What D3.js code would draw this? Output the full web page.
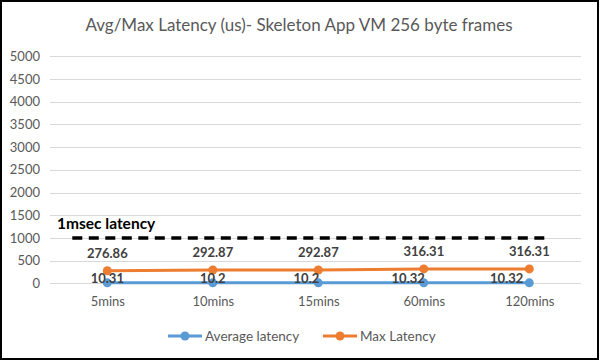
<!DOCTYPE html>
<html>
<head>
<meta charset="utf-8">
<script src="https://cdn.jsdelivr.net/npm/d3@7"></script>
<style>
  body { margin: 0; background: #fff; }
  text { font-family: Lato, "Noto Sans", sans-serif; }
</style>
</head>
<body>
<div id="chart"></div>
<script>
const categories = ['5mins', '10mins', '15mins', '60mins', '120mins']
const avgLatency = [10.31, 10.2, 10.2, 10.32, 10.32]
const maxLatency = [276.86, 292.87, 292.87, 316.31, 316.31]
const yTicks = [0, 500, 1000, 1500, 2000, 2500, 3000, 3500, 4000, 4500, 5000]
const threshold = 1000
const thresholdLabel = '1msec latency'
const seriesNames = ['Average latency', 'Max Latency']

const W = 600, H = 361
const blue = '#5b9bd5', orange = '#ed7d31'

const svg = d3.select('#chart').append('svg')
    .attr('width', W)
    .attr('height', H)

// outer frame
svg.append('rect')
    .attr('x', 1).attr('y', 1)
    .attr('width', W - 3).attr('height', H - 3)
    .attr('fill', '#fff')
    .attr('stroke', '#000')
    .attr('stroke-width', 2)

svg.append('text')
    .attr('x', 299).attr('y', 31)
    .attr('text-anchor', 'middle')
    .attr('font-size', 17)
    .attr('fill', '#595959')
    .text('Avg/Max Latency (us)- Skeleton App VM 256 byte frames')

const x = d3.scalePoint()
    .domain(categories)
    .range([107.3, 529.3])

const y = d3.scaleLinear()
    .domain([0, 5000])
    .range([283.3, 56.3])

const gridLeft = 50, gridRight = 581

// gridlines
svg.append('g')
    .selectAll('line')
    .data(yTicks)
    .join('line')
    .attr('x1', gridLeft).attr('x2', gridRight)
    .attr('y1', d => Math.round(y(d)) + 0.5)
    .attr('y2', d => Math.round(y(d)) + 0.5)
    .attr('stroke', '#d9d9d9')
    .attr('stroke-width', 1)

// y axis labels
const yAxis = svg.append('g')
    .attr('transform', `translate(${gridLeft - 4},0)`)
    .call(d3.axisLeft(y).tickValues(yTicks).tickFormat(d3.format('d')).tickSize(0).tickPadding(6))
yAxis.select('.domain').remove()
yAxis.selectAll('text')
    .attr('font-size', 13)
    .attr('font-family', 'Lato, "Noto Sans", sans-serif')
    .attr('fill', '#595959')

// x axis labels
const xAxis = svg.append('g')
    .attr('transform', 'translate(0,297)')
    .call(d3.axisBottom(x).tickSize(0).tickPadding(0))
xAxis.select('.domain').remove()
xAxis.selectAll('text')
    .attr('font-size', 13)
    .attr('font-family', 'Lato, "Noto Sans", sans-serif')
    .attr('fill', '#595959')

// threshold line
svg.append('line')
    .attr('x1', x(categories[0]) - 35)
    .attr('x2', x(categories[categories.length - 1]) + 17)
    .attr('y1', y(threshold))
    .attr('y2', y(threshold))
    .attr('stroke', '#000')
    .attr('stroke-width', 3.5)
    .attr('stroke-dasharray', '10,6.5')

svg.append('text')
    .attr('x', 57).attr('y', y(threshold) - 9)
    .attr('font-size', 15.5)
    .attr('font-weight', 'bold')
    .attr('fill', '#000')
    .text(thresholdLabel)

const line = d3.line()
    .x((d, i) => x(categories[i]))
    .y(d => y(d))

const drawSeries = (values, color) => {
    svg.append('path')
        .datum(values)
        .attr('fill', 'none')
        .attr('stroke', color)
        .attr('stroke-width', 3)
        .attr('stroke-linejoin', 'round')
        .attr('d', line)
    svg.append('g')
        .selectAll('circle')
        .data(values)
        .join('circle')
        .attr('cx', (d, i) => x(categories[i]))
        .attr('cy', d => y(d))
        .attr('r', 4.5)
        .attr('fill', color)
}
drawSeries(maxLatency, orange)
drawSeries(avgLatency, blue)

// data labels
svg.append('g')
    .selectAll('text')
    .data(maxLatency)
    .join('text')
    .attr('x', (d, i) => x(categories[i]))
    .attr('y', d => y(d) - 13)
    .attr('text-anchor', 'middle')
    .attr('font-size', 13)
    .attr('font-weight', 'bold')
    .attr('fill', '#404040')
    .text(d => d)

// excel nudged the crowded avg labels left of their points
const avgAnchor = ['middle', 'middle', 'end', 'end', 'end']
svg.append('g')
    .selectAll('text')
    .data(avgLatency)
    .join('text')
    .attr('x', (d, i) => x(categories[i]) + (i == 4 ? -6 : (avgAnchor[i] == 'end' ? 1 : 0)))
    .attr('y', d => y(d) + 0.5)
    .attr('text-anchor', (d, i) => avgAnchor[i])
    .attr('font-size', 13)
    .attr('font-weight', 'bold')
    .attr('fill', '#404040')
    .text(d => d)

// legend
const legend = svg.append('g').attr('transform', 'translate(0,336)')
const legendX = [168, 323]
seriesNames.forEach((name, i) => {
    const c = i == 0 ? blue : orange
    const g = legend.append('g').attr('transform', `translate(${legendX[i]},0)`)
    g.append('line')
        .attr('x1', 0).attr('x2', 34)
        .attr('stroke', c).attr('stroke-width', 3)
    g.append('circle').attr('cx', 17).attr('r', 4.5).attr('fill', c)
    g.append('text')
        .attr('x', 37).attr('y', 5)
        .attr('font-size', 13.5)
        .attr('fill', '#595959')
        .text(name)
})
</script>
</body>
</html>
